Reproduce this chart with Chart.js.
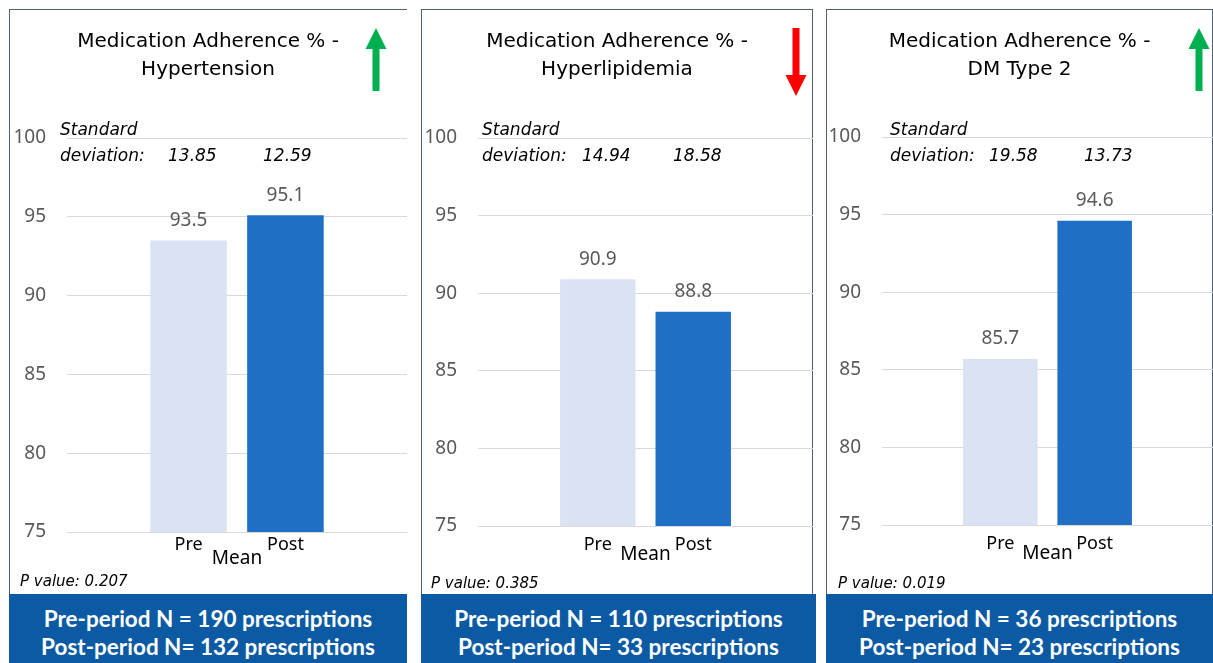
<!DOCTYPE html>
<html>
<head>
<meta charset="utf-8">
<script src="https://cdn.jsdelivr.net/npm/chart.js@4.4.1/dist/chart.umd.min.js"></script>
<style>
  body { margin: 0; background: #fff; width: 1213px; height: 663px; overflow: hidden; position: relative; }
  .frame { position: absolute; top: 9px; height: 585px; border-left: 1px solid #4f5f75; border-top: 1px solid #4f5f75; box-sizing: border-box; }
  .wrap { position: absolute; top: 9px; height: 585px; }
  .sd, .pv { position: absolute; font-family: "DejaVu Sans", sans-serif; font-style: italic; color: #000; white-space: nowrap; line-height: 20px; }
  .sd { font-size: 17px; }
  .pv { font-size: 15px; }
  .nbox { position: absolute; top: 594px; height: 69px; background: #0b5aa3; color: #fff; text-align: center; white-space: nowrap;
          font-family: Lato, "Open Sans", sans-serif; font-weight: bold; font-size: 22.5px; line-height: 28px; padding-top: 11px; box-sizing: border-box; }
</style>
</head>
<body>
<script>
// Daten der drei Diagramme
const categories = ["Mean"];
const seriesNames = ["Pre", "Post"];
const conditions = ["Hypertension", "Hyperlipidemia", "DM Type 2"];
const preMeans = [93.5, 90.9, 85.7];
const postMeans = [95.1, 88.8, 94.6];
const preSD = ["13.85", "14.94", "19.58"];
const postSD = ["12.59", "18.58", "13.73"];
const pValues = ["0.207", "0.385", "0.019"];
const preN = [190, 110, 36];
const postN = [132, 33, 23];
const trends = ["up", "down", "up"];
const yTicks = [75, 80, 85, 90, 95, 100];

// Position der Panels (in Pixel)
const layout = [
  { left: 9,   width: 398, boxWidth: 398, plotLeft: 58, plotTop: 129, plotBottom: 523, meanPad: 15, seriesY: 13, arrowX: 367, sdX: [60, 168, 263],  pX: 20,  pY: 581, rightBorder: false },
  { left: 421, width: 392, boxWidth: 395, plotLeft: 57, plotTop: 129, plotBottom: 517, meanPad: 17, seriesY: 19, arrowX: 375, sdX: [482, 582, 673], pX: 431, pY: 583, rightBorder: true },
  { left: 826, width: 387, boxWidth: 387, plotLeft: 56, plotTop: 128, plotBottom: 516, meanPad: 17, seriesY: 19, arrowX: 373, sdX: [890, 989, 1084], pX: 838, pY: 583, rightBorder: true }
];

const barColors = ["#dae3f3", "#1f6fc6"];

// Werte über den Balken, Pre/Post unter den Balken, Pfeil oben rechts
const extras = {
  id: "extras",
  afterDatasetsDraw(chart, args, opts) {
    const ctx = chart.ctx;
    const xScale = chart.scales.x;
    ctx.save();
    ctx.textAlign = "center";
    ctx.textBaseline = "middle";
    chart.data.datasets.forEach((ds, i) => {
      const bar = chart.getDatasetMeta(i).data[0];
      ctx.font = '19px "Noto Sans"';
      ctx.fillStyle = "#595959";
      ctx.fillText(ds.data[0].toFixed(1), bar.x, bar.y - 20);
      ctx.font = '18px "Noto Sans"';
      ctx.fillStyle = "#000";
      ctx.fillText(ds.label, bar.x, xScale.top + opts.seriesY);
    });

    // Pfeil
    const x = opts.arrowX;
    ctx.beginPath();
    if (opts.trend === "up") {
      ctx.fillStyle = "#00b050";
      ctx.moveTo(x, 19);
      ctx.lineTo(x + 10.5, 40);
      ctx.lineTo(x + 3.5, 40);
      ctx.lineTo(x + 3.5, 82);
      ctx.lineTo(x - 3.5, 82);
      ctx.lineTo(x - 3.5, 40);
      ctx.lineTo(x - 10.5, 40);
    } else {
      ctx.fillStyle = "#ff0000";
      ctx.moveTo(x, 87);
      ctx.lineTo(x + 10.5, 66);
      ctx.lineTo(x + 3.5, 66);
      ctx.lineTo(x + 3.5, 19);
      ctx.lineTo(x - 3.5, 19);
      ctx.lineTo(x - 3.5, 66);
      ctx.lineTo(x - 10.5, 66);
    }
    ctx.closePath();
    ctx.fill();
    ctx.restore();
  }
};

function addText(cls, text, left, centerY) {
  const el = document.createElement("div");
  el.className = cls;
  el.textContent = text;
  el.style.left = left + "px";
  el.style.top = (centerY - 10) + "px";
  document.body.appendChild(el);
}

conditions.forEach((cond, i) => {
  const L = layout[i];

  const frame = document.createElement("div");
  frame.className = "frame";
  frame.style.left = L.left + "px";
  frame.style.width = L.width + "px";
  if (L.rightBorder) frame.style.borderRight = "1px solid #4f5f75";
  document.body.appendChild(frame);

  const wrap = document.createElement("div");
  wrap.className = "wrap";
  wrap.style.left = L.left + "px";
  wrap.style.width = L.width + "px";
  const canvas = document.createElement("canvas");
  wrap.appendChild(canvas);
  document.body.appendChild(wrap);

  new Chart(canvas, {
    type: "bar",
    data: {
      labels: categories,
      datasets: [
        { label: seriesNames[0], data: [preMeans[i]], backgroundColor: barColors[0] },
        { label: seriesNames[1], data: [postMeans[i]], backgroundColor: barColors[1] }
      ]
    },
    options: {
      responsive: true,
      maintainAspectRatio: false,
      animation: false,
      layout: { padding: 0 },
      categoryPercentage: 0.57,
      barPercentage: 0.79,
      plugins: {
        legend: { display: false },
        tooltip: { enabled: false },
        title: {
          display: true,
          text: ["Medication Adherence % -", cond],
          color: "#000",
          font: { family: "DejaVu Sans", size: 20, weight: "normal", lineHeight: 1.4 },
          padding: { top: 19, bottom: L.plotTop - 19 - 56 }
        },
        extras: { seriesY: L.seriesY, arrowX: L.arrowX, trend: trends[i] }
      },
      scales: {
        x: {
          grid: { display: false, drawTicks: false },
          border: { display: false },
          ticks: { color: "#000", font: { family: "Noto Sans", size: 19 }, padding: L.meanPad },
          afterFit(scale) { scale.height = 585 - L.plotBottom; }
        },
        y: {
          min: yTicks[0],
          max: yTicks[yTicks.length - 1],
          grid: { color: "#d9d9d9", drawTicks: false },
          border: { display: false },
          ticks: { stepSize: 5, color: "#595959", font: { family: "Noto Sans", size: 19 }, padding: 21 },
          afterFit(scale) { scale.width = L.plotLeft; }
        }
      }
    },
    plugins: [extras]
  });

  addText("sd", "Standard", L.sdX[0], 129);
  addText("sd", "deviation:", L.sdX[0], 155);
  addText("sd", preSD[i], L.sdX[1], 155);
  addText("sd", postSD[i], L.sdX[2], 155);
  addText("pv", "P value: " + pValues[i], L.pX, L.pY);

  const box = document.createElement("div");
  box.className = "nbox";
  box.style.left = L.left + "px";
  box.style.width = L.boxWidth + "px";
  box.innerHTML = "Pre-period N = " + preN[i] + " prescriptions<br>Post-period N= " + postN[i] + " prescriptions";
  document.body.appendChild(box);
});
</script>
</body>
</html>
